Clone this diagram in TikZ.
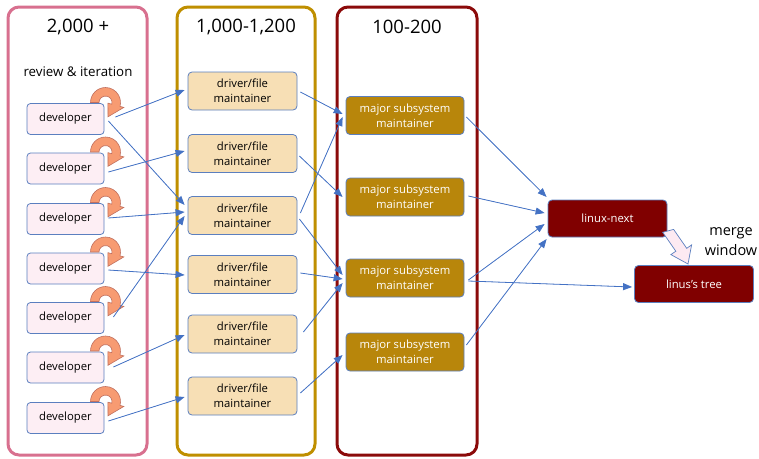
\documentclass[tikz,border=0pt]{standalone}
\usepackage{fontspec}
\setmainfont{Open Sans}
\usetikzlibrary{arrows.meta,calc}
\definecolor{pinkpanel}{HTML}{D8708F}
\definecolor{goldpanel}{HTML}{BF8F00}
\definecolor{redpanel}{HTML}{8B0A0A}
\definecolor{devfill}{HTML}{FDEEF4}
\definecolor{boxborder}{HTML}{5B7FBF}
\definecolor{drvfill}{HTML}{F7DFB5}
\definecolor{majfill}{HTML}{B8860B}
\definecolor{treefill}{HTML}{800000}
\definecolor{arrowblue}{HTML}{4472C4}
\definecolor{loopfill}{HTML}{F79B72}
\definecolor{loopborder}{HTML}{C07060}
\definecolor{mergefill}{HTML}{FDEAF2}
\tikzset{
  panel/.style={rounded corners=11pt, line width=3pt},
  hdr/.style={font=\fontsize{18.5}{20}\selectfont, inner sep=0pt},
  devbox/.style={draw=boxborder, fill=devfill, rounded corners=3.5pt, minimum width=77pt, minimum height=31pt, inner sep=0pt, line width=0.8pt, font=\fontsize{11.3}{14}\selectfont},
  drvbox/.style={draw=boxborder, fill=drvfill, rounded corners=4pt, minimum width=109pt, minimum height=38pt, inner sep=0pt, line width=0.8pt, align=center, font=\fontsize{11.3}{15}\selectfont},
  majbox/.style={draw=boxborder, fill=majfill, text=white, rounded corners=4pt, minimum width=118pt, minimum height=38pt, inner sep=0pt, line width=0.8pt, align=center, font=\fontsize{11.3}{15}\selectfont},
  treebox/.style={draw=boxborder, fill=treefill, text=white, rounded corners=4pt, minimum width=119pt, minimum height=37pt, inner sep=0pt, line width=0.8pt, font=\fontsize{11.3}{14}\selectfont},
  conn/.style={-{Triangle[length=9pt,width=7pt]}, draw=arrowblue, fill=arrowblue, line width=0.8pt},
  loopshape/.style={fill=loopfill, draw=loopborder, line width=0.6pt},
}
\begin{document}
\begin{tikzpicture}[x=1pt,y=-1pt]
\useasboundingbox (0,0) rectangle (759,458);
% panels
\draw[panel, draw=pinkpanel] (8,7) rectangle (147,455);
\draw[panel, draw=goldpanel] (177,7) rectangle (315,455);
\draw[panel, draw=redpanel] (337,7) rectangle (477,455);
\node[hdr] (h1) at (78,27) {2,000 +};
\node[hdr] (h2) at (246,27) {1,000-1,200};
\node[hdr] (h3) at (407,27) {100-200};
\node[font=\fontsize{13.3}{15}\selectfont, inner sep=0pt] (rev) at (78,72) {review \& iteration};
% developers
\foreach \i/\y in {1/119,2/168.5,3/219,4/268.5,5/318,6/367.5,7/418}{
  \node[devbox] (dev\i) at (65.5,\y) {developer};
}
% loops
\foreach \i in {1,...,7}{
  \draw[loopshape, shift={($(dev\i.center)+(40,-16.5)$)}]
    (180:15) arc[start angle=180, end angle=375, radius=15]
    -- (15:19) -- (80:14.5) -- (15:2.5) -- (15:6.5)
    arc[start angle=15, end angle=-180, radius=6.5] -- cycle;
}
% drivers
\foreach \i/\y in {1/91,2/153.5,3/215.5,4/274.5,5/334,6/396}{
  \node[drvbox] (drv\i) at (242.5,\y) {driver/file\\maintainer};
}
% majors
\foreach \i/\y in {1/115.5,2/197,3/278,4/352}{
  \node[majbox] (maj\i) at (405,\y) {major subsystem\\maintainer};
}
\node[treebox] (lnext) at (607.5,218.5) {linux-next};
\node[treebox] (ltree) at (694,284) {linus's tree};
\node[font=\fontsize{14.5}{20}\selectfont, align=center, inner sep=0pt] (merge) at (731,242) {merge\\window};
% merge block arrow
\draw[fill=mergefill, draw=boxborder, line width=0.7pt]
  (673.6,229.4) -- (686.7,248.3) -- (691.6,244.9) -- (688,264) -- (670.9,254.6) -- (675.8,251.2) -- (662.7,232.3) -- cycle;
% developer -> driver
\draw[conn] ($(dev1.east)+(11,-2)$) -- ($(drv1.west)+(-3,-1)$);
\draw[conn] ($(dev1.east)+(4,2)$) -- ($(drv3.west)+(-3,-10.5)$);
\draw[conn] ($(dev2.east)+(4,3.5)$) -- ($(drv2.west)+(-3,-2.5)$);
\draw[conn] ($(dev3.east)+(4,-1)$) -- ($(drv3.west)+(-3,-3.5)$);
\draw[conn] ($(dev5.east)+(9,-1)$) -- ($(drv3.west)+(-3,0.5)$);
\draw[conn] ($(dev4.east)+(4,1.5)$) -- ($(drv4.west)+(-3,0.5)$);
\draw[conn] ($(dev6.east)+(9,-0.5)$) -- ($(drv5.west)+(-3,1)$);
\draw[conn] ($(dev7.east)+(4,3)$) -- ($(drv6.west)+(-3,1)$);
% driver -> major
\draw[conn] ($(drv1.east)+(3,1)$) -- ($(maj1.west)+(-3,-1.5)$);
\draw[conn] ($(drv2.east)+(2,2.5)$) -- ($(maj2.west)+(-3,0)$);
\draw[conn] ($(drv3.east)+(3,-2.5)$) -- ($(maj1.west)+(-3,1.5)$);
\draw[conn] ($(drv3.east)+(2,3.5)$) -- ($(maj3.west)+(-3,-3)$);
\draw[conn] ($(drv4.east)+(3,-1.5)$) -- ($(maj3.west)+(-3,1)$);
\draw[conn] ($(drv5.east)+(6,-2)$) -- ($(maj3.west)+(-3,5)$);
\draw[conn] ($(drv6.east)+(3,-3)$) -- ($(maj4.west)+(-3,3)$);
% major -> trees
\draw[conn] ($(maj1.east)+(2,1.5)$) -- ($(lnext.west)+(-1,-21.5)$);
\draw[conn] ($(maj2.east)+(4,-1)$) -- ($(lnext.west)+(-3,-5.5)$);
\draw[conn] ($(maj3.east)+(4,2)$) -- ($(lnext.west)+(-3,5.5)$);
\draw[conn] ($(maj3.east)+(4,3)$) -- ($(ltree.west)+(-2,3)$);
\draw[conn] ($(maj4.east)+(2,-7)$) -- ($(lnext.west)+(-1,20.5)$);
\end{tikzpicture}
\end{document}
